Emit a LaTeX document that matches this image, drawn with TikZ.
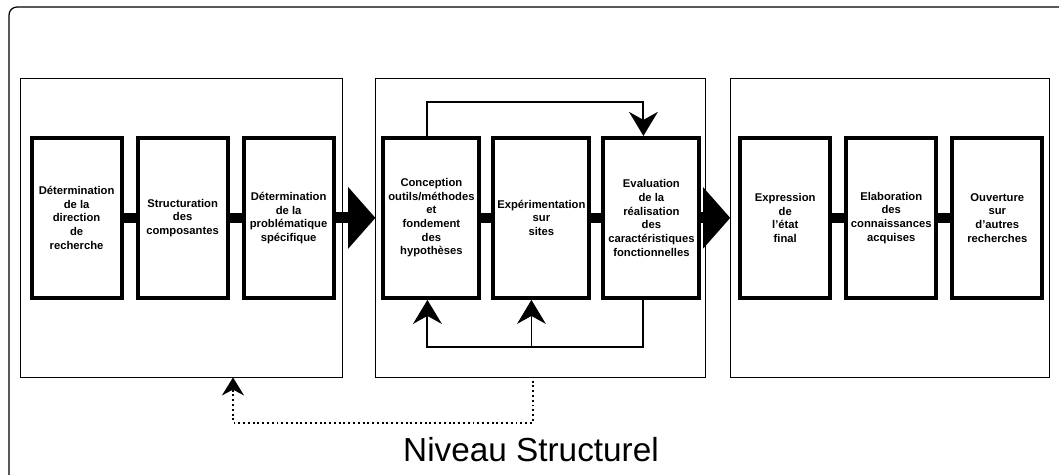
\documentclass[tikz,border=0pt]{standalone}
\usepackage{fontspec}
\setmainfont{Liberation Sans}
\usetikzlibrary{positioning,arrows.meta,calc}

\begin{document}
\begin{tikzpicture}[
  panel/.style={rectangle, draw, line width=0.6pt, inner sep=0pt,
                minimum height=7.475cm},
  box/.style={rectangle, draw, line width=0.1cm, inner sep=1pt,
              minimum width=2.25cm, minimum height=4.0cm, align=center,
              font=\fontsize{8}{9.7}\selectfont\bfseries},
  widebox/.style={box, minimum width=2.4cm},
  bar/.style={line width=0.25cm},
  bigarr/.style={line width=0.28cm, -{Triangle[length=0.68cm, width=1.5cm]}},
  fb/.style={line width=1.5pt, -{Stealth[length=0.6cm, width=0.72cm, inset=0.2cm]}},
  fbthin/.style={line width=0.6pt, -{Stealth[length=0.6cm, width=0.72cm, inset=0.2cm]}},
  dotarr/.style={dotted, line width=1.4pt, -{Stealth[length=0.45cm, width=0.55cm]}},
  frame/.style={line width=0.9pt, rounded corners=0.2cm},
  title/.style={font=\fontsize{23.7}{28}\selectfont}
]
\useasboundingbox (0,0) rectangle (26.475,-11.875);

\draw[frame] (0.225,-12.5) |- (27,-0.175);

\node[panel, minimum width=8.05cm]  (P1) at (4.525,-5.6875) {};
\node[panel, minimum width=8.25cm,  right=0.825cm of P1] (P2) {};
\node[panel, minimum width=7.975cm, right=0.6cm of P2]   (P3) {};

\node[box, right=0.25cm of P1.west, yshift=0.24cm] (DR) {Détermination\\de la\\direction\\de\\recherche};
\node[box, right=0.3cm of DR] (SC) {Structuration\\des\\composantes};
\node[box, right=0.3cm of SC] (DP) {Détermination\\de la\\problématique\\spécifique};

\node[widebox, right=0.15cm of P2.west, yshift=0.24cm] (CO) {Conception\\outils/méthodes\\et\\fondement\\des\\hypothèses};
\node[widebox, right=0.25cm of CO] (EX) {Expérimentation\\sur\\sites};
\node[widebox, right=0.25cm of EX] (EV) {Evaluation\\de la\\réalisation\\des\\caractéristiques\\fonctionnelles};

\node[box, right=0.2cm of P3.west, yshift=0.24cm] (EF) {Expression\\de\\l'état\\final};
\node[box, right=0.3cm of EF] (EC) {Elaboration\\des\\connaissances\\acquises};
\node[box, right=0.3cm of EC] (OR) {Ouverture\\sur\\d'autres\\recherches};

\draw[bar] (DR) -- (SC);
\draw[bar] (SC) -- (DP);
\draw[bar] (CO) -- (EX);
\draw[bar] (EX) -- (EV);
\draw[bar] (EF) -- (EC);
\draw[bar] (EC) -- (OR);

\draw[bigarr] (DP.east) -- (DP.east -| P2.west);
\draw[bigarr] (EV.east) -- (EV.east -| P3.west);

% feedback loops inside the second stage
\draw[fb] ([xshift=-0.1cm]CO.north) -- ++(0,0.85) -| ([xshift=-0.2cm]EV.north);
\draw[fb] ([xshift=-0.2cm]EV.south) -- ++(0,-1.175) coordinate (lp) -| ([xshift=-0.1cm]CO.south);
\draw[fbthin] ([xshift=-0.25cm]EX.south |- lp) -- ([xshift=-0.25cm]EX.south);

\coordinate (dA) at ([xshift=-0.2cm]P2.south);
\coordinate (dB) at ([xshift=1.3cm]P1.south);
\draw[dotarr] ([yshift=-0.08cm]dA) -- ++(0,-1.05) -| (dB);

\node[title] (NS) at (13.275,-11.25) {Niveau Structurel};

\end{tikzpicture}
\end{document}
